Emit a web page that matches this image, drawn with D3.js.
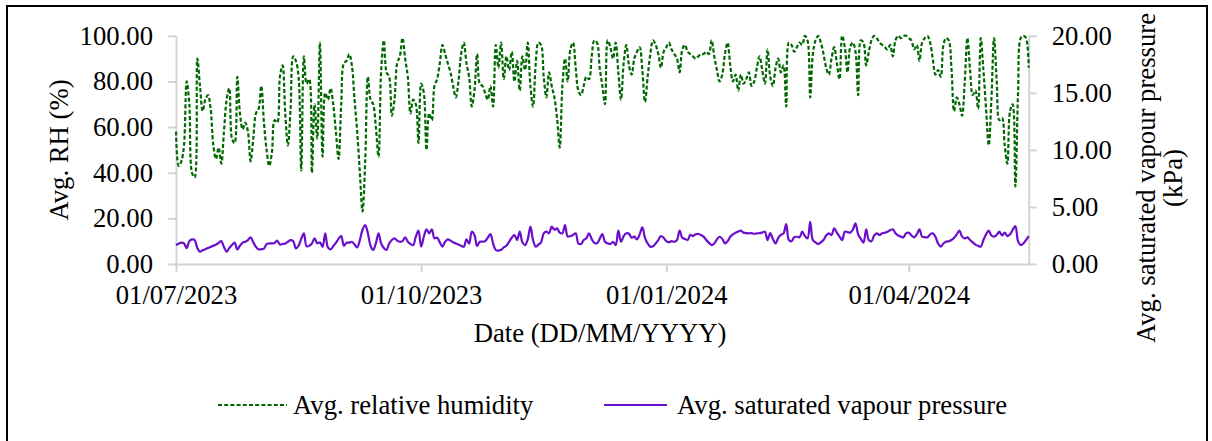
<!DOCTYPE html>
<html>
<head>
<meta charset="utf-8">
<script src="https://cdn.jsdelivr.net/npm/d3@7"></script>
<style>
  html, body { margin: 0; padding: 0; background: #fff; }
  svg { display: block; }
</style>
</head>
<body>
<svg id="chart" width="1212" height="441"></svg>
<script>
// ---------- DATA ----------
const startDate = "2023-07-01";   // first daily observation
const endDate = "2024-05-16";     // last daily observation

const rhValues = [
  58,43,45,52,80,70,40,38,90,78,
  67,72,74,68,52,46,51,44,58,72,
  77,55,53,82,66,59,62,58,45,55,
  66,68,78,62,50,43,49,63,62,82,
  87,66,52,68,91,89,82,41,91,79,
  81,40,70,55,97,47,75,72,77,70,
  58,46,70,88,89,92,87,72,58,40,
  23,45,82,72,70,60,47,85,98,84,
  82,65,72,88,91,99,90,82,66,72,
  70,53,79,75,50,66,63,78,81,88,
  96,92,88,84,78,73,80,92,97,88,
  82,69,76,92,79,78,75,72,78,69,
  96,86,97,81,91,85,93,80,89,76,
  91,85,97,78,69,88,97,96,82,73,
  84,78,73,64,51,78,90,80,94,97,
  86,76,74,78,82,81,91,98,97,86,
  78,70,98,95,90,97,84,72,88,96,
  87,83,90,93,95,85,71,82,92,98,
  96,92,86,93,95,97,94,92,90,84,
  94,96,93,92,91,90,91,92,92,93,
  92,98,91,85,80,83,92,97,87,80,
  83,76,83,79,81,84,78,80,86,91,
  85,79,94,82,78,86,90,84,87,69,
  97,96,93,95,97,96,100,98,73,92,
  98,100,97,92,86,83,90,95,88,81,
  100,95,84,95,97,93,74,98,97,87,
  93,98,100,99,97,96,95,94,96,91,
  98,100,99,100,100,99,98,94,96,89,
  97,99,100,97,90,83,85,82,96,99,
  98,86,67,73,70,65,80,99,85,74,
  76,68,99,85,68,52,72,99,80,63,
  64,52,44,67,70,34,75,99,100,99,
  86
];

const svpValues = [
  1.66,1.78,1.87,1.80,1.40,2.00,2.16,2.10,1.40,1.08,
  1.20,1.30,1.40,1.50,1.60,1.70,1.85,2.00,1.50,1.08,
  1.40,1.66,1.87,1.28,1.60,1.87,1.95,2.10,2.34,1.90,
  1.50,1.28,1.30,1.35,1.75,1.80,1.81,1.85,2.04,1.70,
  1.75,1.80,1.95,2.10,2.00,1.37,1.60,2.20,2.69,1.55,
  1.60,1.80,2.25,1.80,1.90,1.50,2.69,1.45,1.28,1.55,
  1.85,2.20,2.45,1.60,1.87,1.87,1.95,1.70,1.46,2.10,
  3.00,3.42,2.70,1.60,1.23,1.80,2.69,1.80,1.40,1.23,
  1.80,2.10,2.25,2.05,1.95,2.00,2.34,1.95,1.75,1.65,
  2.39,2.92,1.52,2.39,3.04,2.69,3.04,2.25,2.30,1.90,
  1.52,1.95,2.16,2.05,1.90,1.80,1.70,1.60,1.52,2.16,
  1.80,2.83,2.55,1.58,1.95,1.95,2.00,2.30,2.63,1.80,
  1.23,1.17,1.25,1.45,1.60,1.95,2.30,2.54,2.10,2.83,
  1.90,1.66,2.16,3.27,2.10,1.52,1.70,1.90,2.69,2.83,
  2.69,3.27,3.00,3.12,2.75,2.69,3.42,2.40,2.45,2.55,
  2.69,1.80,1.75,2.10,2.25,2.69,2.20,1.85,1.81,2.20,
  2.63,1.95,1.81,1.75,1.95,1.65,2.92,1.95,2.45,2.69,
  2.65,2.30,2.40,2.16,2.60,3.21,2.30,1.80,1.52,1.55,
  1.80,2.10,2.45,2.30,2.00,1.90,2.00,1.95,2.10,2.92,
  2.30,2.20,2.10,2.55,2.45,2.60,2.63,2.55,2.40,2.10,
  1.85,1.66,1.80,2.16,2.39,2.20,1.81,2.00,2.39,2.60,
  2.74,2.85,2.92,2.75,2.70,2.69,2.70,2.65,2.69,2.70,
  2.75,2.83,2.10,2.70,2.20,1.81,2.30,2.55,2.69,3.50,
  2.10,2.00,2.35,2.39,2.34,2.83,2.45,2.25,3.70,2.10,
  1.90,1.75,1.90,2.10,2.50,2.69,2.54,3.12,2.75,2.40,
  2.10,2.83,2.80,2.75,3.00,3.56,2.60,2.20,1.87,3.04,
  2.10,2.00,2.50,2.69,2.54,2.70,2.74,2.83,2.95,3.04,
  2.69,2.50,2.40,2.34,2.69,2.74,2.50,2.34,2.60,3.04,
  2.39,2.35,2.34,2.60,2.69,2.39,1.80,1.52,1.80,1.95,
  2.00,2.10,2.30,2.60,2.92,2.40,2.25,2.34,2.10,1.90,
  1.70,1.60,1.52,2.10,2.60,2.92,2.50,2.40,2.55,2.83,
  2.50,2.75,2.45,2.60,3.00,3.33,2.00,1.66,1.80,2.10,
  2.45
];

const xTickDates = ["2023-07-01", "2023-10-01", "2024-01-01", "2024-04-01"];
const leftTicks = [0, 20, 40, 60, 80, 100];
const rightTicks = [0, 5, 10, 15, 20];

const seriesNames = ["Avg. relative humidity", "Avg. saturated vapour pressure"];
const leftTitle = "Avg. RH (%)";
const rightTitleLines = ["Avg. saturated vapour pressure", "(kPa)"];
const xTitle = "Date (DD/MM/YYYY)";

// ---------- LAYOUT ----------
const FONT = '"Liberation Serif"';
const fontSize = 26.7;
const svg = d3.select("#chart");
const parse = d3.utcParse("%Y-%m-%d");
const fmt = d3.utcFormat("%d/%m/%Y");
const t0 = parse(startDate);
const dates = rhValues.map((_, i) => d3.utcDay.offset(t0, i));

const plot = { left: 176, right: 1028.7, top: 35.8, bottom: 264 };
const green = "#006800";
const purple = "#6a0fcc";
const axisColor = "#d4d4d4";

function styleText(sel) {
  return sel.style("font-family", FONT).attr("font-size", fontSize).attr("fill", "#000");
}

// outer border
svg.append("rect")
  .attr("x", 7).attr("y", 6)
  .attr("width", 1200).attr("height", 445)
  .attr("fill", "none").attr("stroke", "#000").attr("stroke-width", 2);

const x = d3.scaleUtc()
  .domain([parse(startDate), parse(endDate)])
  .range([plot.left, plot.right]);
const yL = d3.scaleLinear().domain([0, 100]).range([plot.bottom, plot.top]);
const yR = d3.scaleLinear().domain([0, 20]).range([plot.bottom, plot.top]);

// axes
const axisBottom = d3.axisBottom(x)
  .tickValues(xTickDates.map(parse))
  .tickFormat(fmt)
  .tickSizeInner(8).tickSizeOuter(0).tickPadding(13);
const gx = svg.append("g").attr("transform", `translate(0,${plot.bottom})`).call(axisBottom);

const axisLeft = d3.axisLeft(yL)
  .tickValues(leftTicks)
  .tickFormat(d3.format(".2f"))
  .tickSizeInner(8).tickSizeOuter(0).tickPadding(15);
const gl = svg.append("g").attr("transform", `translate(${plot.left},0)`).call(axisLeft);

const axisRight = d3.axisRight(yR)
  .tickValues(rightTicks)
  .tickFormat(d3.format(".2f"))
  .tickSizeInner(8).tickSizeOuter(0).tickPadding(15);
const gr = svg.append("g").attr("transform", `translate(${plot.right},0)`).call(axisRight);

[gx, gl, gr].forEach(g => {
  g.attr("font-family", null).attr("font-size", null);
  g.select(".domain").attr("stroke", axisColor).attr("stroke-width", 2);
  g.selectAll(".tick line").attr("stroke", axisColor).attr("stroke-width", 2);
  styleText(g.selectAll(".tick text"));
});

// lines
const lineRH = d3.line()
  .x((d, i) => x(dates[i]))
  .y(d => yL(d))
  .curve(d3.curveCatmullRom.alpha(0.5));
const lineSVP = d3.line()
  .x((d, i) => x(dates[i]))
  .y(d => yR(d))
  .curve(d3.curveCatmullRom.alpha(0.5));

svg.append("path")
  .datum(svpValues)
  .attr("d", lineSVP)
  .attr("fill", "none").attr("stroke", purple).attr("stroke-width", 2.2)
  .attr("stroke-linejoin", "round");

svg.append("path")
  .datum(rhValues)
  .attr("d", lineRH)
  .attr("fill", "none").attr("stroke", green).attr("stroke-width", 2.2)
  .attr("stroke-dasharray", "4,2.2")
  .attr("stroke-linejoin", "round");

// titles
styleText(svg.append("text")
  .attr("transform", `translate(68,150) rotate(-90)`)
  .attr("text-anchor", "middle"))
  .text(leftTitle);

const rt = styleText(svg.append("text")
  .attr("transform", `translate(1155,178) rotate(-90)`)
  .attr("text-anchor", "middle"));
rightTitleLines.forEach((l, i) => {
  rt.append("tspan").attr("x", 0).attr("dy", i === 0 ? 0 : 27).text(l);
});

styleText(svg.append("text")
  .attr("x", 600).attr("y", 342)
  .attr("text-anchor", "middle"))
  .text(xTitle);

// legend
const legend = [
  { name: seriesNames[0], color: green, dash: "4,2.2", x1: 218, x2: 287, tx: 293 },
  { name: seriesNames[1], color: purple, dash: null, x1: 604, x2: 667, tx: 677 }
];
legend.forEach(l => {
  svg.append("line")
    .attr("x1", l.x1).attr("x2", l.x2).attr("y1", 405).attr("y2", 405)
    .attr("stroke", l.color).attr("stroke-width", 2.2)
    .attr("stroke-dasharray", l.dash);
  styleText(svg.append("text")
    .attr("x", l.tx).attr("y", 414))
    .text(l.name);
});
</script>
</body>
</html>
